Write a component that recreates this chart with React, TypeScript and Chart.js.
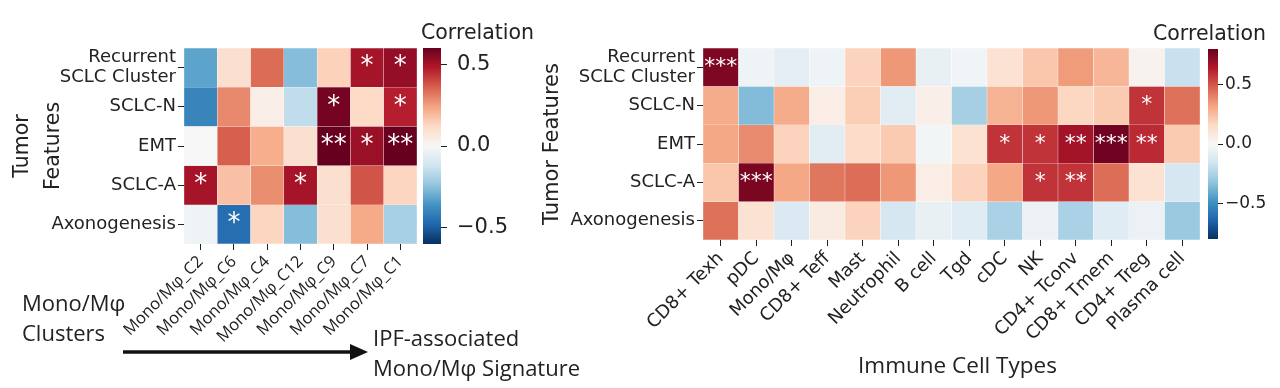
import React, { useEffect, useRef } from 'react';
import { Chart, registerables } from 'chart.js';
Chart.register(...registerables);

// ---------- data ----------
const rowLabels: (string | string[])[] = [['Recurrent', 'SCLC Cluster'], 'SCLC-N', 'EMT', 'SCLC-A', 'Axonogenesis'];

const monoClusters = ['Mono/Mφ_C2', 'Mono/Mφ_C6', 'Mono/Mφ_C4', 'Mono/Mφ_C12', 'Mono/Mφ_C9', 'Mono/Mφ_C7', 'Mono/Mφ_C1'];
const monoRecurrent = [-0.32, 0.1, 0.34, -0.26, 0.14, 0.5, 0.53];
const monoSCLCN = [-0.4, 0.29, 0.04, -0.15, 0.58, 0.12, 0.47];
const monoEMT = [0.0, 0.36, 0.22, 0.1, 0.63, 0.52, 0.63];
const monoSCLCA = [0.5, 0.18, 0.28, 0.5, 0.1, 0.38, 0.13];
const monoAxon = [-0.03, -0.46, 0.13, -0.26, 0.1, 0.23, -0.2];
const monoStars = [
  ['', '', '', '', '', '*', '*'],
  ['', '', '', '', '*', '', '*'],
  ['', '', '', '', '**', '*', '**'],
  ['*', '', '', '*', '', '', ''],
  ['', '*', '', '', '', '', ''],
];
const monoScaleMax = 0.6;
const monoCbarTicks = [-0.5, 0, 0.5];

const immuneTypes = ['CD8+ Texh', 'pDC', 'Mono/Mφ', 'CD8+ Teff', 'Mast', 'Neutrophil', 'B cell', 'Tgd', 'cDC', 'NK', 'CD4+ Tconv', 'CD8+ Tmem', 'CD4+ Treg', 'Plasma cell'];
const immuneRecurrent = [0.75, -0.04, -0.08, -0.04, 0.18, 0.35, -0.06, -0.03, 0.12, 0.22, 0.34, 0.27, 0.03, -0.18];
const immuneSCLCN = [0.3, -0.35, 0.3, 0.06, 0.2, -0.09, 0.05, -0.27, 0.28, 0.35, 0.17, 0.21, 0.58, 0.44];
const immuneEMT = [0.31, 0.38, 0.18, -0.09, 0.15, 0.21, -0.02, 0.12, 0.58, 0.58, 0.67, 0.78, 0.6, 0.21];
const immuneSCLCA = [0.22, 0.76, 0.31, 0.43, 0.45, 0.35, 0.06, 0.18, 0.31, 0.58, 0.58, 0.45, 0.12, -0.14];
const immuneAxon = [0.44, 0.12, -0.12, 0.07, 0.18, -0.14, -0.06, -0.1, -0.26, -0.05, -0.26, -0.1, -0.05, -0.3];
const immuneStars = [
  ['***', '', '', '', '', '', '', '', '', '', '', '', '', ''],
  ['', '', '', '', '', '', '', '', '', '', '', '', '*', ''],
  ['', '', '', '', '', '', '', '', '*', '*', '**', '***', '**', ''],
  ['', '***', '', '', '', '', '', '', '', '*', '**', '', '', ''],
  ['', '', '', '', '', '', '', '', '', '', '', '', '', ''],
];
const immuneScaleMax = 0.8;
const immuneCbarTicks = [-0.5, 0, 0.5];

// ---------- colormap (RdBu_r) ----------
const RDBU_R = ['#053061', '#2166ac', '#4393c3', '#92c5de', '#d1e5f0', '#f7f7f7', '#fddbc7', '#f4a582', '#d6604d', '#b2182b', '#67001f'];
function hex(h: string) {
  return [parseInt(h.slice(1, 3), 16), parseInt(h.slice(3, 5), 16), parseInt(h.slice(5, 7), 16)];
}
function cmap(v: number, vmax: number) {
  let t = (v + vmax) / (2 * vmax);
  t = Math.max(0, Math.min(1, t));
  const idx = t * (RDBU_R.length - 1);
  const i = Math.min(Math.floor(idx), RDBU_R.length - 2);
  const f = idx - i;
  const a = hex(RDBU_R[i]);
  const b = hex(RDBU_R[i + 1]);
  const c = a.map((x, k) => Math.round(x + (b[k] - x) * f));
  return `rgb(${c[0]},${c[1]},${c[2]})`;
}

const TXT = '#222';
const DV = 'DejaVu Sans';
const OS = 'Open Sans';

function fmtTick(v: number) {
  const s = Math.abs(v).toFixed(1);
  return v < 0 ? '\u2212' + s : s;
}

function starPlugin(stars: string[][], size: number) {
  return {
    id: 'stars',
    afterDatasetsDraw(chart: any) {
      const { ctx, scales } = chart;
      const x = scales.x;
      const y = scales.y;
      ctx.save();
      ctx.fillStyle = '#ffffff';
      ctx.font = `${size}px "${DV}"`;
      ctx.textAlign = 'center';
      ctx.textBaseline = 'middle';
      stars.forEach((row, r) => {
        row.forEach((s, c) => {
          if (s) ctx.fillText(s, x.getPixelForValue(c), y.getPixelForValue(r + 0.5));
        });
      });
      ctx.restore();
    },
  };
}

interface HeatProps {
  cols: string[];
  matrix: number[][];
  stars: string[][];
  vmax: number;
  yAxisW: number;
  xAxisH: number;
  top: number;
  right: number;
  xFont: any;
  yTitle: string[];
  yTitleFont: any;
  yTitlePad: number;
  starSize: number;
}

function heatmapConfig(p: HeatProps): any {
  return {
    type: 'bar',
    data: {
      labels: p.cols,
      datasets: p.matrix.map((vals, r) => ({
        data: vals.map(() => [r, r + 1]),
        backgroundColor: vals.map((v) => cmap(v, p.vmax)),
        borderColor: 'rgba(255,255,255,0.22)',
        borderWidth: 0.5,
        borderSkipped: false,
        barPercentage: 1,
        categoryPercentage: 1,
        grouped: false,
      })),
    },
    options: {
      responsive: false,
      animation: false,
      events: [],
      layout: { padding: { top: p.top, right: p.right, left: 0, bottom: 0 } },
      plugins: { legend: { display: false }, tooltip: { enabled: false } },
      scales: {
        x: {
          type: 'category',
          offset: true,
          grid: { drawOnChartArea: false, drawTicks: true, tickLength: 6, offset: false, color: TXT, tickColor: TXT },
          border: { display: false },
          ticks: { autoSkip: false, minRotation: 45, maxRotation: 45, padding: 2, font: p.xFont, color: TXT },
          afterFit: (s: any) => {
            s.height = p.xAxisH;
          },
        },
        y: {
          type: 'linear',
          min: 0,
          max: rowLabels.length,
          reverse: true,
          afterBuildTicks: (s: any) => {
            s.ticks = rowLabels.map((_, i) => ({ value: i + 0.5 }));
          },
          ticks: {
            autoSkip: false,
            padding: 2,
            color: TXT,
            font: { family: DV, size: 18, lineHeight: 1.12 },
            callback: (_v: any, i: number) => rowLabels[i],
          },
          grid: { drawOnChartArea: false, drawTicks: true, tickLength: 6, color: TXT, tickColor: TXT },
          border: { display: false },
          title: { display: true, text: p.yTitle, color: TXT, font: p.yTitleFont, padding: { top: p.yTitlePad, bottom: 0 } },
          afterFit: (s: any) => {
            s.width = p.yAxisW;
          },
        },
      },
    },
    plugins: [starPlugin(p.stars, p.starSize)],
  };
}

interface CbarProps {
  vmax: number;
  ticks: number[];
  axisW: number;
  left: number;
  top: number;
  bottom: number;
  tickFont: number;
  tickLength: number;
  tickPad: number;
}

function colorbarConfig(p: CbarProps): any {
  return {
    type: 'bar',
    data: {
      labels: [''],
      datasets: [
        {
          data: [[-p.vmax, p.vmax]],
          backgroundColor: (context: any) => {
            const chart = context.chart;
            const { chartArea, scales } = chart;
            if (!chartArea || !scales.y) return 'rgba(0,0,0,0)';
            const y0 = scales.y.getPixelForValue(-p.vmax);
            const y1 = scales.y.getPixelForValue(p.vmax);
            const g = chart.ctx.createLinearGradient(0, y0, 0, y1);
            RDBU_R.forEach((c, i) => g.addColorStop(i / (RDBU_R.length - 1), c));
            return g;
          },
          borderWidth: 0,
          barPercentage: 1,
          categoryPercentage: 1,
        },
      ],
    },
    options: {
      responsive: false,
      animation: false,
      events: [],
      layout: { padding: { top: p.top, left: p.left, right: 0, bottom: p.bottom } },
      plugins: { legend: { display: false }, tooltip: { enabled: false } },
      scales: {
        x: { display: false },
        y: {
          position: 'right',
          min: -p.vmax,
          max: p.vmax,
          afterBuildTicks: (s: any) => {
            s.ticks = p.ticks.map((v) => ({ value: v }));
          },
          ticks: { autoSkip: false, padding: p.tickPad, color: TXT, font: { family: DV, size: p.tickFont }, callback: (v: any) => fmtTick(Number(v)) },
          grid: { drawOnChartArea: false, drawTicks: true, tickLength: p.tickLength, color: TXT, tickColor: TXT },
          border: { display: false },
          afterFit: (s: any) => {
            s.width = p.axisW;
          },
        },
      },
    },
  };
}

export default function App() {
  const leftRef = useRef<HTMLCanvasElement>(null);
  const leftCbRef = useRef<HTMLCanvasElement>(null);
  const rightRef = useRef<HTMLCanvasElement>(null);
  const rightCbRef = useRef<HTMLCanvasElement>(null);

  useEffect(() => {
    Chart.defaults.font.family = DV;
    const charts: Chart[] = [];
    charts.push(
      new Chart(
        leftRef.current as HTMLCanvasElement,
        heatmapConfig({
          cols: monoClusters,
          matrix: [monoRecurrent, monoSCLCN, monoEMT, monoSCLCA, monoAxon],
          stars: monoStars,
          vmax: monoScaleMax,
          yAxisW: 184,
          xAxisH: 144,
          top: 48,
          right: 3,
          xFont: { family: OS, size: 16.5 },
          yTitle: ['Tumor', 'Features'],
          yTitleFont: { family: DV, size: 20.5, lineHeight: '31px' },
          yTitlePad: 7.5,
          starSize: 26,
        })
      )
    );
    charts.push(
      new Chart(
        leftCbRef.current as HTMLCanvasElement,
        colorbarConfig({ vmax: monoScaleMax, ticks: monoCbarTicks, axisW: 89, left: 0, top: 48, bottom: 144, tickFont: 21, tickLength: 6, tickPad: 10 })
      )
    );
    charts.push(
      new Chart(
        rightRef.current as HTMLCanvasElement,
        heatmapConfig({
          cols: immuneTypes,
          matrix: [immuneRecurrent, immuneSCLCN, immuneEMT, immuneSCLCA, immuneAxon],
          stars: immuneStars,
          vmax: immuneScaleMax,
          yAxisW: 173,
          xAxisH: 148,
          top: 48,
          right: 3,
          xFont: { family: DV, size: 18 },
          yTitle: ['Tumor Features'],
          yTitleFont: { family: DV, size: 21, lineHeight: 1.2 },
          yTitlePad: 10,
          starSize: 22,
        })
      )
    );
    charts.push(
      new Chart(
        rightCbRef.current as HTMLCanvasElement,
        colorbarConfig({ vmax: immuneScaleMax, ticks: immuneCbarTicks, axisW: 62, left: 0, top: 49, bottom: 149, tickFont: 17, tickLength: 5, tickPad: 2 })
      )
    );
    return () => charts.forEach((c) => c.destroy());
  }, []);

  const abs = (left: number, w: number): React.CSSProperties => ({ position: 'absolute', left, top: 0, width: w, height: 388 });
  const txt = (left: number, top: number, size: number, family: string, lh: number): React.CSSProperties => ({
    position: 'absolute',
    left,
    top,
    fontFamily: family,
    fontSize: size,
    lineHeight: `${lh}px`,
    color: TXT,
    whiteSpace: 'nowrap',
  });

  return (
    <div style={{ position: 'relative', width: 1280, height: 388, background: '#fff', overflow: 'hidden' }}>
      <style>{'body{margin:0;}'}</style>
      <canvas ref={leftRef} width={420} height={388} style={abs(0, 420)} />
      <canvas ref={leftCbRef} width={107} height={388} style={abs(423, 107)} />
      <canvas ref={rightRef} width={673} height={388} style={abs(530, 673)} />
      <canvas ref={rightCbRef} width={72} height={388} style={abs(1208, 72)} />
      <div style={txt(421, 20, 20.5, DV, 24)}>Correlation</div>
      <div style={txt(1153, 21, 20.5, DV, 24)}>Correlation</div>
      <div style={txt(22, 287, 22, OS, 30)}>
        Mono/Mφ
        <br />
        Clusters
      </div>
      <div style={txt(373, 322, 22, OS, 30)}>
        IPF-associated
        <br />
        Mono/Mφ Signature
      </div>
      <div style={{ ...txt(857, 352, 22.5, OS, 26), width: 201, textAlign: 'center' }}>Immune Cell Types</div>
      <svg width={1280} height={388} style={{ position: 'absolute', left: 0, top: 0, pointerEvents: 'none' }}>
        <line x1={123} y1={352} x2={354} y2={352} stroke="#111" strokeWidth={3.5} />
        <polygon points="350,344 368,352 350,360" fill="#111" />
      </svg>
    </div>
  );
}
